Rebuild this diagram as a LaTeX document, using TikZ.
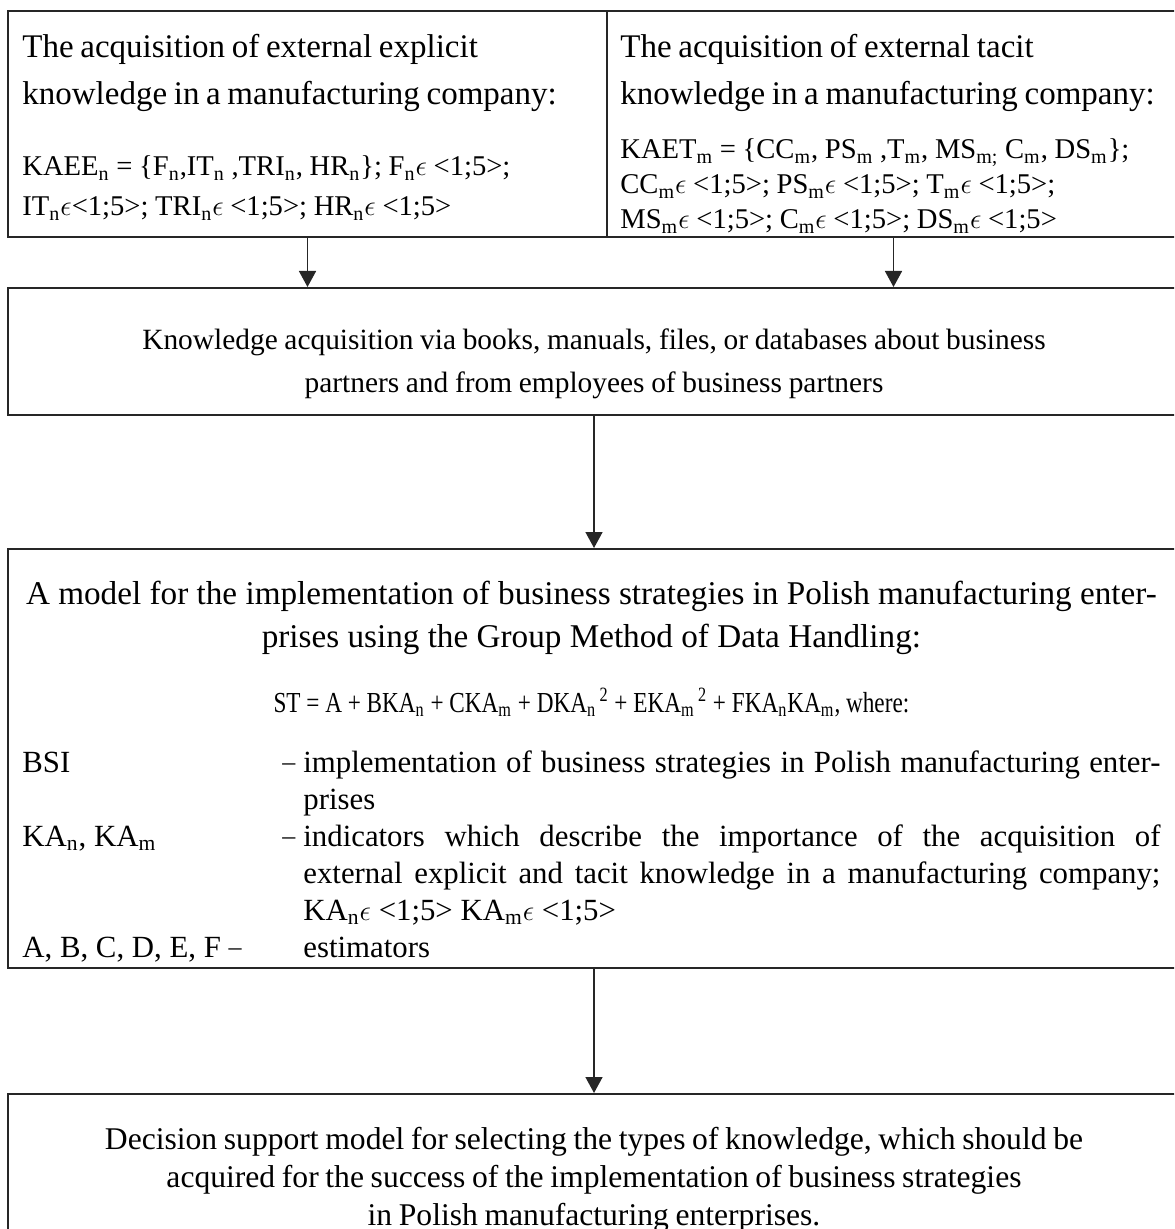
\documentclass[tikz,border=0pt]{standalone}
\usepackage{fontspec}
\setmainfont{Liberation Serif}
\newfontfamily\narrowfont[FakeStretch=0.8]{Liberation Serif}
\usetikzlibrary{arrows.meta}
\newcommand{\low}[1]{\textsubscript{#1}}
\newcommand{\inn}{\ensuremath{\epsilon}}
\newcommand{\dsh}{\raisebox{0.6pt}{\fontsize{13}{13}\selectfont --}}
\newcommand{\deflin}[2]{\par\noindent\hangindent=140.5pt\hangafter=1\makebox[130pt][l]{#1}\makebox[10.5pt][l]{\dsh}#2\par}
\newcommand{\midline}[1]{\par\noindent\makebox[\linewidth]{#1}\par}

\begin{document}
\begin{tikzpicture}[x=0.5pt, y=-0.5pt]

\tikzstyle{every node} = [rectangle, inner sep=0pt]
\tikzstyle{box} = [draw=black!85, line width=1pt]
\tikzstyle{arr} = [draw=black!85, line width=0.8pt, -{Triangle[width=8.5pt, length=8pt]}]

\useasboundingbox (0,0) rectangle (1174,1229);
\clip (0,0) rectangle (1174,1229);

\node[box, minimum width=299.5pt, minimum height=113pt] (ex) at (307.5,124) {};
\node[box, minimum width=286.5pt, minimum height=113pt] (ta) at (893.5,124) {};
\node[box, minimum width=586pt, minimum height=63.5pt] (kb) at (594,351.5) {};
\node[box, minimum width=586pt, minimum height=209.5pt] (mo) at (594,758.5) {};
\node[box, minimum width=586pt, minimum height=87pt] (ds) at (594,1181) {};

\node[anchor=base west, text width=300pt, align=left] (ext) at (22,58) {%
  \fontsize{16.5}{23.5}\selectfont
  The acquisition of external explicit\\
  knowledge in a manufacturing company:\par
  \vspace{15.5pt}\fontsize{14.3}{20}\selectfont
  KAEE\low{n} = \{F\low{n},IT\low{n} ,TRI\low{n}, HR\low{n}\}; F\low{n}\inn\ <1;5>;\\
  IT\low{n}\inn<1;5>; TRI\low{n}\inn\ <1;5>; HR\low{n}\inn\ <1;5>\par};

\node[anchor=base west, text width=290pt, align=left] (tat) at (620,58) {%
  \fontsize{16.5}{23.5}\selectfont
  The acquisition of external tacit\\
  knowledge in a manufacturing company:\par
  \vspace{9.5pt}\fontsize{14.3}{17.5}\selectfont
  KAET\low{m} = \{CC\low{m}, PS\low{m} ,T\low{m}, MS\low{m;} C\low{m}, DS\low{m}\};\\
  CC\low{m}\inn\ <1;5>; PS\low{m}\inn\ <1;5>; T\low{m}\inn\ <1;5>;\\
  MS\low{m}\inn\ <1;5>; C\low{m}\inn\ <1;5>; DS\low{m}\inn\ <1;5>\par};

\node[anchor=base, text width=580pt, align=center] (kbt) at (594,350) {%
  \fontsize{14.7}{21.5}\selectfont
  Knowledge acquisition via books, manuals, files, or databases about business\\
  partners and from employees of business partners\par};

\node[anchor=base west, text width=569pt, align=justify] (mot) at (22,604) {%
  \fontsize{16.6}{21.5}\selectfont
  \makebox[\linewidth]{A model for the implementation of business strategies in Polish manufacturing enter-}\par
  \midline{prises using the Group Method of Data Handling:}
  \vspace{14pt}
  \narrowfont\fontsize{14.5}{18.5}\selectfont
  \midline{ST = A + BKA\low{n} + CKA\low{m} + DKA\low{n}\textsuperscript{\,2} + EKA\low{m}\textsuperscript{\,2} + FKA\low{n}KA\low{m}, where:}
  \vspace{11.5pt}
  \normalfont\fontsize{15.4}{18.5}\selectfont
  \deflin{BSI}{implementation of business strategies in Polish manufacturing enter-\linebreak prises}
  \deflin{KA\low{n}, KA\low{m}}{indicators which describe the importance of the acquisition of\linebreak external explicit and tacit knowledge in a manufacturing company;\linebreak KA\low{n}\inn\ <1;5> KA\low{m}\inn\ <1;5>}
  \noindent\makebox[140.5pt][l]{A, B, C, D, E, F \dsh}estimators\par};

\node[anchor=base, text width=580pt, align=center] (dst) at (594,1149) {%
  \fontsize{15.8}{19}\selectfont
  Decision support model for selecting the types of knowledge, which should be\\
  acquired for the success of the implementation of business strategies\\
  in Polish manufacturing enterprises.\par};

\draw[arr] (ex) -- (ex |- kb.north);
\draw[arr] (ta) -- (ta |- kb.north);
\draw[arr] (kb) -- (mo);
\draw[arr] (mo) -- (ds);

\end{tikzpicture}
\end{document}
